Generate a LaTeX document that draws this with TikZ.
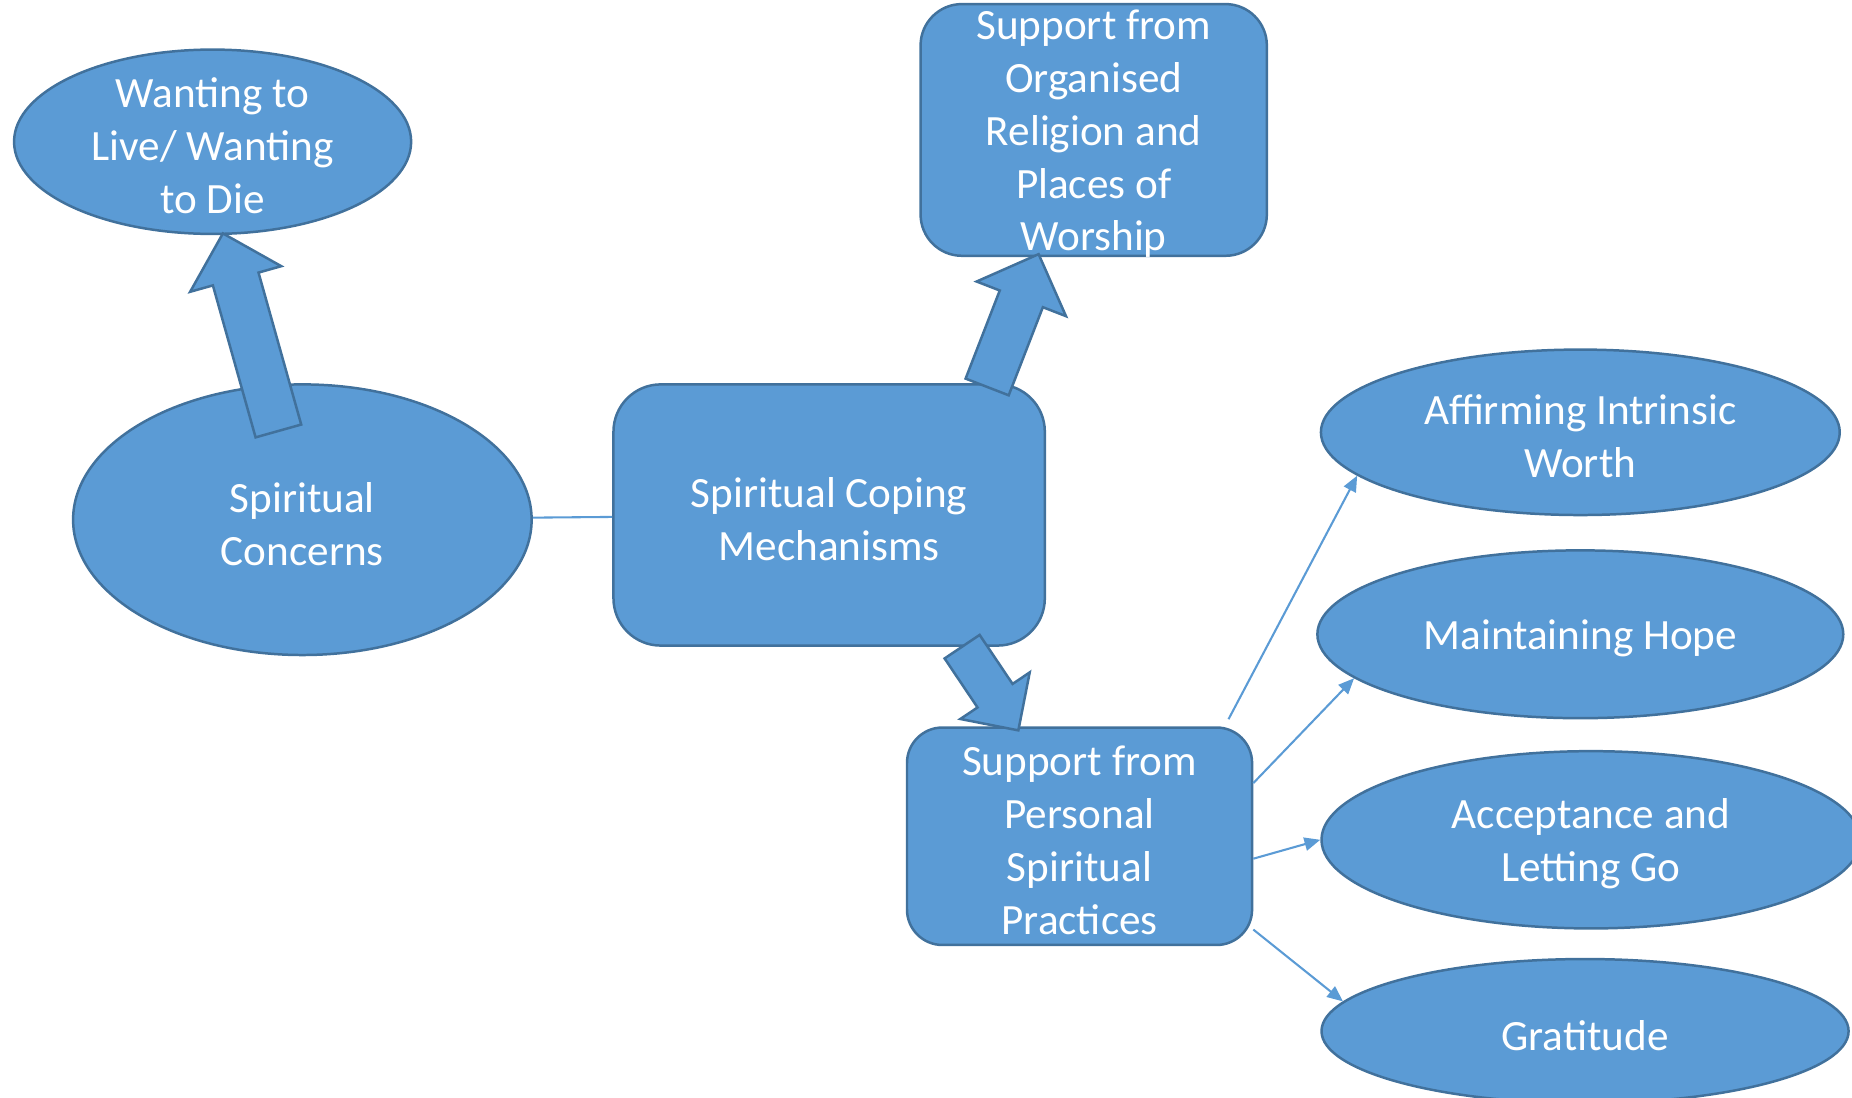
\documentclass[tikz,border=0pt]{standalone}
\usepackage{fontspec}
\setmainfont{Carlito}
\usetikzlibrary{shapes.geometric,shapes.arrows,arrows.meta,calc}
\definecolor{boxblue}{HTML}{5B9BD5}
\definecolor{edgeblue}{HTML}{41719C}

\begin{document}
\begin{tikzpicture}[x=0.01cm,y=-0.01cm,
  txt/.style={text=white,align=center,inner sep=0pt,yshift=-1pt,font=\fontsize{10.4}{12.7}\selectfont},
  oval/.style={ellipse,draw=edgeblue,fill=boxblue,line width=0.6pt,inner sep=0pt},
  rbox/.style={rectangle,rounded corners=#1,draw=edgeblue,fill=boxblue,line width=0.6pt,inner sep=0pt},
  link/.style={draw=boxblue,line width=0.5pt},
  ptr/.style={link,-{Triangle[length=3.8pt,width=3.2pt]}},
  blk/.style={single arrow,draw=edgeblue,fill=boxblue,line width=0.6pt,inner xsep=0pt,
    pos=0,anchor=tail,sloped,allow upside down}]
  \clip (0,0) rectangle (1568,929);
  \node[oval,minimum width=3.36cm,minimum height=1.56cm,
    label={[txt]center:Wanting to\\Live/ Wanting\\to Die}] (want) at (180,120) {};
  \node[oval,minimum width=3.88cm,minimum height=2.29cm,
    label={[txt]center:Spiritual\\Concerns}] (conc) at (256,440) {};
  \node[rbox=0.4cm,minimum width=3.65cm,minimum height=2.21cm,
    label={[txt]center:Spiritual Coping\\Mechanisms}] (cope) at (702,436) {};
  \node[rbox=0.35cm,minimum width=2.93cm,minimum height=2.13cm,
    label={[txt]center:Support from\\Organised\\Religion and\\Places of\\Worship}] (org) at (926,110) {};
  \node[rbox=0.3cm,minimum width=2.92cm,minimum height=1.84cm,
    label={[txt]center:Support from\\Personal\\Spiritual\\Practices}] (pers) at (914,708) {};
  \node[oval,minimum width=4.39cm,minimum height=1.40cm,
    label={[txt]center:Affirming Intrinsic\\Worth}] (aff) at (1338,366) {};
  \node[oval,minimum width=4.45cm,minimum height=1.42cm,
    label={[txt]center:Maintaining Hope}] (hope) at (1338,537) {};
  \node[oval,minimum width=4.56cm,minimum height=1.50cm,
    label={[txt]center:Acceptance and\\Letting Go}] (acc) at (1347,711) {};
  \node[oval,minimum width=4.46cm,minimum height=1.22cm,
    label={[txt]center:Gratitude}] (grat) at (1342,873) {};

  \draw[link] (conc) -- (cope);
  \draw[ptr] ($(pers.north east)+(-21,-6)$) -- (aff.191);
  \draw[ptr] ($(pers.east)+(0,-45)$) -- (hope.191);
  \draw[ptr] ($(pers.east)+(0,19)$) -- (acc.west);
  \draw[ptr] ($(pers.east)+(0,79)$) -- (grat.173);

  \coordinate (t1) at ($(conc.north)+(-20,41.5)$);
  \coordinate (h1) at ($(want.south)+(9,-0.5)$);
  \coordinate (t2) at ($(cope.north)+(133.4,4.2)$);
  \coordinate (h2) at ($(org.south)+(-47,-1.5)$);
  \coordinate (t3) at ($(cope.south)+(112,-1)$);
  \coordinate (h3) at ($(pers.north)+(-52.4,2.6)$);
  \path let \p1=($(h1)-(t1)$), \n1={veclen(\x1,\y1)} in
    (t1) -- node[blk,minimum height=\n1,inner ysep=0.19cm,single arrow head extend=0.2cm] {} (h1);
  \path let \p1=($(h2)-(t2)$), \n1={veclen(\x1,\y1)} in
    (t2) -- node[blk,minimum height=\n1,inner ysep=0.185cm,single arrow head extend=0.21cm] {} (h2);
  \path let \p1=($(h3)-(t3)$), \n1={veclen(\x1,\y1)} in
    (t3) -- node[blk,minimum height=\n1,inner ysep=0.168cm,single arrow head extend=0.175cm] {} (h3);
\end{tikzpicture}
\end{document}
